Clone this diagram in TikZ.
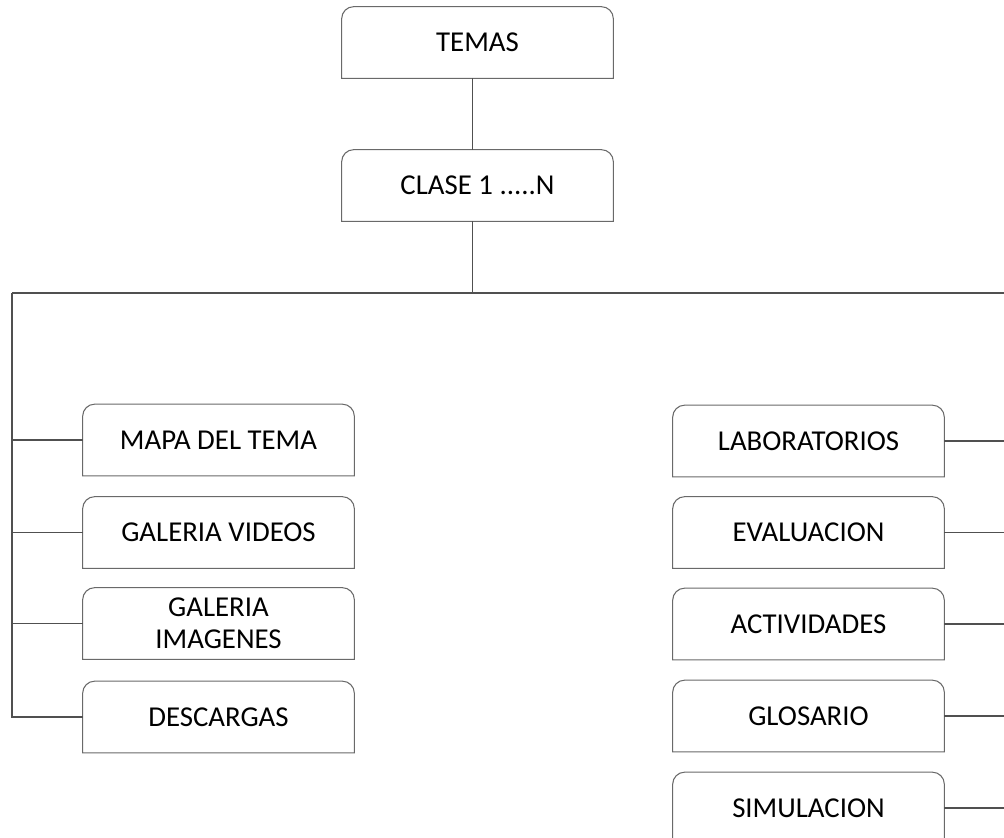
\documentclass[tikz,border=0pt]{standalone}
\usepackage{fontspec}
\setmainfont{Carlito}
\usepackage{tikz}
\usetikzlibrary{calc}

\definecolor{linegray}{RGB}{80,80,80}
\definecolor{boxgray}{RGB}{105,105,105}

\tikzset{
  box/.style={minimum width=5.42cm, minimum height=1.42cm, inner sep=2pt,
    align=center, font=\fontsize{16.4}{18}\selectfont},
  link/.style={draw=linegray, line width=0.6pt},
}

% box with rounded top corners, square bottom
\newcommand{\topbox}[1]{%
  \draw[draw=boxgray, line width=0.6pt]
    ([yshift=-0.24cm]#1.north west) -- (#1.south west) -- (#1.south east)
    -- ([yshift=-0.24cm]#1.north east)
    arc[start angle=0, end angle=90, radius=0.24cm]
    -- ([xshift=0.24cm]#1.north west)
    arc[start angle=90, end angle=180, radius=0.24cm] -- cycle;}

\begin{document}
\begin{tikzpicture}[x=0.02cm, y=-0.02cm]
    \useasboundingbox (0,0) rectangle (1004,838);
    \clip (0,0) rectangle (1004,838);
    \node[box] (temas) at (477.5,42.5) {TEMAS};
    \node[box] (clase) at (477.5,185.5) {CLASE 1 .....N};
    % left column
    \node[box] (mapa) at (218.5,440) {MAPA DEL TEMA};
    \node[box] (videos) at (218.5,532.5) {GALERIA VIDEOS};
    \node[box] (imagenes) at (218.5,623.5) {GALERIA\\IMAGENES};
    \node[box] (descargas) at (218.5,717) {DESCARGAS};
    % right column
    \node[box] (lab) at (808.5,441) {LABORATORIOS};
    \node[box] (eval) at (808.5,532.5) {EVALUACION};
    \node[box] (activ) at (808.5,624) {ACTIVIDADES};
    \node[box] (glos) at (808.5,716) {GLOSARIO};
    \node[box] (simul) at (808.5,808) {SIMULACION};
    \foreach \b in {temas,clase,mapa,videos,imagenes,descargas,lab,eval,activ,glos,simul} {\topbox{\b}}
    % bus lines
    \coordinate (bus) at ([xshift=-0.1cm]clase.south |- 0,293);
    \coordinate (busL) at (12,293);
    \coordinate (busR) at (1014,293);
    \draw[link] ([xshift=-0.1cm]temas.south) -- ([xshift=-0.1cm]clase.north);
    \draw[link] ([xshift=-0.1cm]clase.south) -- (bus);
    \draw[link] (busL) -- (busR);
    \draw[link] (busL) |- (descargas.west);
    \draw[link] (busR) |- (simul.east);
    \foreach \b in {mapa,videos,imagenes} {\draw[link] (busL |- \b.west) -- (\b.west);}
    \foreach \b in {lab,eval,activ,glos} {\draw[link] (busR |- \b.east) -- (\b.east);}
\end{tikzpicture}
\end{document}
